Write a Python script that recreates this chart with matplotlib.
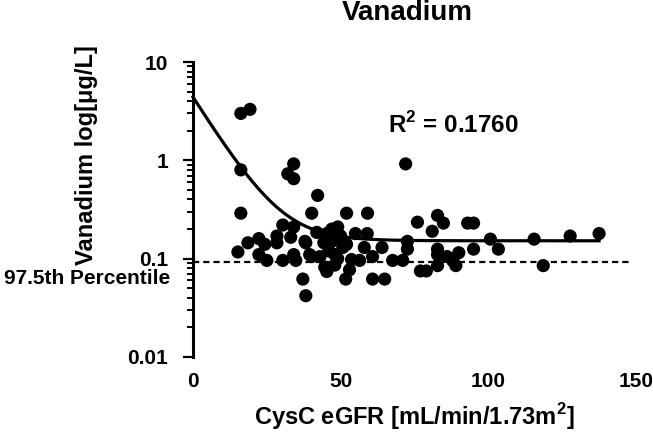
import numpy as np
import matplotlib
matplotlib.use("Agg")
import matplotlib.pyplot as plt
from matplotlib.ticker import FixedLocator, LogLocator, NullFormatter

plt.rcParams["font.family"] = ["Liberation Sans", "DejaVu Sans"]
plt.rcParams["font.weight"] = "bold"
plt.rcParams["mathtext.fontset"] = "custom"
plt.rcParams["mathtext.rm"] = "Liberation Sans:bold"
plt.rcParams["mathtext.bf"] = "Liberation Sans:bold"

# data
egfr = [16.2, 19.3, 16.2, 16.2, 34.1, 32.1, 34.1, 42.2, 40.2, 52.0, 59.1, 30.4, 34.1, 49.0, 72.0,
        22.3, 18.6, 24.3, 28.4, 28.4, 33.1, 38.2, 44.3, 55.0, 59.0, 58.0, 64.0,
        15.2, 22.3, 25.0, 30.4, 34.1, 34.8, 40.2, 43.0,
        45.3, 48.0, 51.7, 53.0, 56.4, 60.8, 60.8, 64.9,
        37.2, 38.2, 67.6, 71.0, 72.6, 72.6,
        76.0, 82.8, 84.8, 93.0, 95.0, 81.0, 82.8, 82.8,
        86.0, 90.0, 88.0, 89.0, 82.8, 77.0, 79.0, 95.0,
        100.7, 103.4, 115.5, 118.6, 127.7, 137.5,
        45.3, 49.0, 47.0, 50.3, 50.7, 48.0, 53.7, 44.6,
        41.9, 37.9, 39.5, 47.0, 50.0, 46.0, 52.0, 49.0]
vanadium = [3.0, 3.3, 0.80, 0.29, 0.92, 0.73, 0.65, 0.44, 0.29, 0.29, 0.29, 0.22, 0.21, 0.21, 0.92,
            0.16, 0.145, 0.14, 0.17, 0.145, 0.165, 0.145, 0.145, 0.18, 0.18, 0.13, 0.13,
            0.117, 0.11, 0.096, 0.096, 0.11, 0.096, 0.105, 0.105,
            0.074, 0.086, 0.062, 0.077, 0.096, 0.105, 0.062, 0.062,
            0.062, 0.042, 0.096, 0.096, 0.15, 0.125,
            0.235, 0.275, 0.23, 0.23, 0.23, 0.19, 0.125, 0.11,
            0.105, 0.115, 0.095, 0.085, 0.085, 0.075, 0.075, 0.125,
            0.158, 0.125, 0.158, 0.085, 0.17, 0.18,
            0.18, 0.18, 0.15, 0.155, 0.13, 0.11, 0.098, 0.082,
            0.185, 0.15, 0.11, 0.2, 0.17, 0.12, 0.14, 0.10]

# one-phase decay fit (parameters estimated from the drawn curve)
fit_y0 = 4.4
fit_plateau = 0.152
fit_k = 0.111
fit_xmax = 137.5
percentile_975 = 0.093

yticks = [0.01, 0.1, 1, 10]
ytick_labels = ["0.01", "0.1", "1", "10"]
xticks = [0, 50, 100, 150]

fig = plt.figure(figsize=(6.53, 4.34), dpi=100)
ax = fig.add_axes([193 / 653, 1 - 357 / 434, 443 / 653, 295 / 434])

ax.scatter(egfr, vanadium, s=90, color="black", edgecolors="none", zorder=3, clip_on=False)

xf = np.linspace(0, fit_xmax, 300)
yf = fit_plateau + (fit_y0 - fit_plateau) * np.exp(-fit_k * xf)
ax.plot(xf, yf, color="black", lw=2.3, zorder=4, clip_on=False)

ax.plot([0, 148], [percentile_975, percentile_975], color="black", lw=1.6,
        linestyle=(0, (2.8, 1.8)), zorder=2)

ax.set_yscale("log")
ax.set_xlim(0, 150)
ax.set_ylim(0.01, 10)

ax.yaxis.set_major_locator(FixedLocator(yticks))
ax.set_yticklabels(ytick_labels)
ax.yaxis.set_minor_locator(LogLocator(base=10, subs=np.arange(2, 10)))
ax.yaxis.set_minor_formatter(NullFormatter())
ax.set_xticks(xticks)
ax.set_xticklabels([str(t) for t in xticks])

for s in ["top", "right", "bottom"]:
    ax.spines[s].set_visible(False)
ax.spines["left"].set_linewidth(2.2)
ax.tick_params(axis="y", which="major", length=7, width=1.6, pad=11, labelsize=15)
ax.tick_params(axis="y", which="minor", length=4.5, width=1.4)
ax.tick_params(axis="x", length=0, pad=11, labelsize=15)
for lab in ax.get_xticklabels() + ax.get_yticklabels():
    lab.set_fontweight("bold")

ax.set_xlabel(r"CysC eGFR [mL/min/1.73m$^{2}$]", fontsize=17, fontweight="bold")
ax.xaxis.set_label_coords(0.5, -0.15)
ax.set_ylabel("Vanadium log[\u03bcg/L]", fontsize=17, fontweight="bold")
ax.yaxis.set_label_coords(-0.215, 0.685)

fig.text(407.5 / 653, 1 - 13 / 434, "Vanadium", fontsize=20, fontweight="bold",
         ha="center", va="center")
fig.text(388 / 653, 1 - 125 / 434, r"R$^{2}$ = 0.1760", fontsize=17.5, fontweight="bold",
         ha="left", va="center")
fig.text(170 / 653, 1 - 279 / 434, "97.5th Percentile", fontsize=15, fontweight="bold",
         ha="right", va="center")

fig.savefig("out.png", dpi=100)
